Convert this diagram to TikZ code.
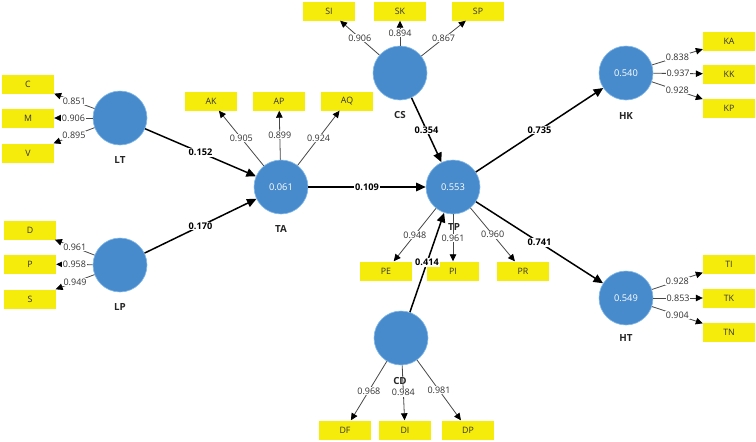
\documentclass[tikz,border=0pt]{standalone}
\usepackage{fontspec}
\setmainfont{Open Sans}
\usetikzlibrary{arrows.meta}
\definecolor{lvblue}{RGB}{72,139,204}
\definecolor{lvedge}{RGB}{130,185,235}
\definecolor{mvyellow}{RGB}{246,236,12}
\definecolor{txtgray}{RGB}{50,50,50}
\begin{document}
\begin{tikzpicture}[x=1pt,y=-1pt,
 lv/.style={circle,fill=lvblue,draw=lvedge,line width=0.6pt,minimum size=54pt,inner sep=0pt,text=white,font=\fontsize{9.3}{10}\selectfont},
 mv/.style={rectangle,fill=mvyellow,minimum width=52pt,minimum height=19pt,inner sep=0pt,text=txtgray,font=\fontsize{8.8}{10}\selectfont},
 lvname/.style={font=\bfseries\fontsize{9.8}{10}\selectfont,text=black!85,inner sep=1pt},
 load/.style={draw=black!72,line width=0.8pt,-{Triangle[length=7pt,width=6.5pt,fill=black,color=black]}},
 struct/.style={draw=black,line width=1.5pt,-{Triangle[length=9.5pt,width=8.5pt]}},
 lw/.style={fill=white,inner sep=0.7pt,text=txtgray,font=\fontsize{9}{10}\selectfont},
 sw/.style={fill=white,inner sep=0.7pt,text=black,font=\bfseries\fontsize{9.2}{10}\selectfont}
]
\useasboundingbox (0,0) rectangle (756,442);
% latent variables
\node[lv] (LT) at (120,118) {};
\node[lv] (LP) at (120,265) {};
\node[lv] (TA) at (281,187) {0.061};
\node[lv] (CS) at (400,73) {};
\node[lv] (TP) at (453,187) {0.553};
\node[lv] (CD) at (401,338) {};
\node[lv] (HK) at (626,73) {0.540};
\node[lv] (HT) at (626,298) {0.549};
% names
\node[lvname] (LTn) at (120,160) {LT};
\node[lvname] (LPn) at (120,307) {LP};
\node[lvname] (TAn) at (281,229) {TA};
\node[lvname] (CSn) at (400,115) {CS};
\node[lvname] (TPn) at (454,227) {TP};
\node[lvname] (CDn) at (400,381) {CD};
\node[lvname] (HKn) at (626,116) {HK};
\node[lvname] (HTn) at (626,338) {HT};
% indicators
\node[mv] (C) at (28,84) {C};
\node[mv] (M) at (28,118) {M};
\node[mv] (V) at (28,153) {V};
\node[mv] (D) at (30,230) {D};
\node[mv] (P) at (30,264) {P};
\node[mv] (S) at (30,299) {S};
\node[mv] (AK) at (211,101) {AK};
\node[mv] (AP) at (279,101) {AP};
\node[mv] (AQ) at (347,101) {AQ};
\node[mv] (SI) at (329,11) {SI};
\node[mv] (SK) at (400,11) {SK};
\node[mv] (SP) at (478,11) {SP};
\node[mv] (PE) at (386,271) {PE};
\node[mv] (PI) at (453,271) {PI};
\node[mv] (PR) at (523,271) {PR};
\node[mv] (DF) at (345,430) {DF};
\node[mv] (DI) at (405,430) {DI};
\node[mv] (DP) at (468,430) {DP};
\node[mv] (KA) at (729,41) {KA};
\node[mv] (KK) at (729,74) {KK};
\node[mv] (KP) at (729,108) {KP};
\node[mv] (TI) at (729,264) {TI};
\node[mv] (TK) at (729,298) {TK};
\node[mv] (TN) at (729,332) {TN};
% loadings
\draw[load] (LT) -- node[lw]{0.851} (C);
\draw[load] (LT) -- node[lw]{0.906} (M);
\draw[load] (LT) -- node[lw]{0.895} (V);
\draw[load] (LP) -- node[lw]{0.961} (D);
\draw[load] (LP) -- node[lw]{0.958} (P);
\draw[load] (LP) -- node[lw]{0.949} (S);
\draw[load] (TA) -- node[lw]{0.905} (AK);
\draw[load] (TA) -- node[lw]{0.899} (AP);
\draw[load] (TA) -- node[lw]{0.924} (AQ);
\draw[load] (CS) -- node[lw]{0.906} (SI);
\draw[load] (CS) -- node[lw]{0.894} (SK);
\draw[load] (CS) -- node[lw]{0.867} (SP);
\draw[load] (TP) -- node[lw]{0.948} (PE);
\draw[load] (TP) -- node[lw]{0.961} (PI);
\draw[load] (TP) -- node[lw]{0.960} (PR);
\draw[load] (CD) -- node[lw]{0.968} (DF);
\draw[load] (CD) -- node[lw]{0.984} (DI);
\draw[load] (CD) -- node[lw]{0.981} (DP);
\draw[load] (HK) -- node[lw]{0.838} (KA);
\draw[load] (HK) -- node[lw]{0.937} (KK);
\draw[load] (HK) -- node[lw]{0.928} (KP);
\draw[load] (HT) -- node[lw]{0.928} (TI);
\draw[load] (HT) -- node[lw]{0.853} (TK);
\draw[load] (HT) -- node[lw]{0.904} (TN);
% structural paths
\draw[struct] (LT) -- node[sw]{0.152} (TA);
\draw[struct] (LP) -- node[sw]{0.170} (TA);
\draw[struct] (TA) -- node[sw]{0.109} (TP);
\draw[struct] (CS) -- node[sw]{0.354} (TP);
\draw[struct] (CD) -- node[sw]{0.414} (TP);
\draw[struct] (TP) -- node[sw]{0.735} (HK);
\draw[struct] (TP) -- node[sw]{0.741} (HT);
\end{tikzpicture}
\end{document}
